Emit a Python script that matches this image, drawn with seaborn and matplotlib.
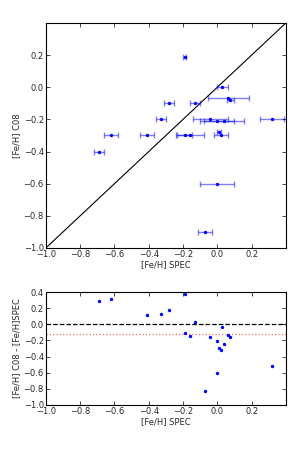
import numpy as np
import pandas as pd
import matplotlib
matplotlib.use("Agg")
import matplotlib.pyplot as plt
import seaborn as sns

# -- Data ---------------------------------------------------
FEH_SPEC = [-0.19, 0.03, 0.065, 0.075, -0.28, -0.13, -0.33, -0.04, 0.00, 0.04,
            0.32, -0.62, -0.41, -0.19, -0.16, 0.01, 0.02, -0.69, 0.00, -0.07]
FEH_C08 = [0.19, 0.00, -0.07, -0.08, -0.10, -0.10, -0.20, -0.20, -0.21, -0.21,
           -0.20, -0.30, -0.30, -0.30, -0.30, -0.28, -0.30, -0.40, -0.60, -0.90]
FEH_SPEC_ERR = [0.01, 0.03, 0.12, 0.02, 0.03, 0.03, 0.03, 0.10, 0.10, 0.115,
                0.07, 0.04, 0.04, 0.045, 0.08, 0.01, 0.04, 0.03, 0.10, 0.04]

TICKS = [-1.0, -0.8, -0.6, -0.4, -0.2, 0.0, 0.2]
RES_TICKS = [-1.0, -0.8, -0.6, -0.4, -0.2, 0.0, 0.2, 0.4]

df = pd.DataFrame({"spec": FEH_SPEC, "c08": FEH_C08, "err": FEH_SPEC_ERR})
df["diff"] = df["c08"] - df["spec"]
mean_diff = df["diff"].mean()

sns.set_style("ticks")
plt.rcParams["font.family"] = ["DejaVu Sans"]
plt.rcParams["xtick.direction"] = "in"
plt.rcParams["ytick.direction"] = "in"
plt.rcParams["xtick.top"] = True
plt.rcParams["ytick.right"] = True

fig = plt.figure(figsize=(3.0, 4.5), dpi=100)
ax1 = fig.add_axes([0.153, 0.449, 0.80, 0.50])
ax2 = fig.add_axes([0.153, 0.100, 0.80, 0.251])

# -- Top panel: C08 vs SPEC -----------------------------------
ax1.plot([-1.0, 0.4], [-1.0, 0.4], color="black", linewidth=0.8)
ax1.errorbar(df["spec"], df["c08"], xerr=df["err"], fmt="none",
             ecolor="blue", alpha=0.5, elinewidth=1.0, capsize=2, capthick=1.0)
sns.scatterplot(data=df, x="spec", y="c08", ax=ax1, color="blue",
                s=6, linewidth=0, zorder=3)
ax1.set_xlim(-1.0, 0.4)
ax1.set_ylim(-1.0, 0.4)
ax1.set_xticks(TICKS)
ax1.set_yticks(TICKS)
ax1.set_xlabel("[Fe/H] SPEC", fontsize=6, labelpad=1)
ax1.set_ylabel("[Fe/H] C08", fontsize=6, labelpad=2)

# -- Bottom panel: residuals ---------------------------------
ax2.axhline(0, color="black", linestyle="--", linewidth=0.9)
ax2.axhline(mean_diff, color="red", linestyle=":", linewidth=0.9, alpha=0.6)
sns.scatterplot(data=df, x="spec", y="diff", ax=ax2, color="blue",
                s=6, linewidth=0, zorder=3)
ax2.set_xlim(-1.0, 0.4)
ax2.set_ylim(-1.0, 0.4)
ax2.set_xticks(TICKS)
ax2.set_yticks(RES_TICKS)
ax2.set_xlabel("[Fe/H] SPEC", fontsize=6, labelpad=1)
ax2.set_ylabel("[Fe/H] C08 - [Fe/H]SPEC", fontsize=6, labelpad=2)

for ax in (ax1, ax2):
    ax.tick_params(labelsize=6, length=3, width=0.6, pad=1.5)
    for sp in ax.spines.values():
        sp.set_visible(True)
        sp.set_linewidth(0.8)
        sp.set_color("black")

fig.savefig("out.png", dpi=100)
